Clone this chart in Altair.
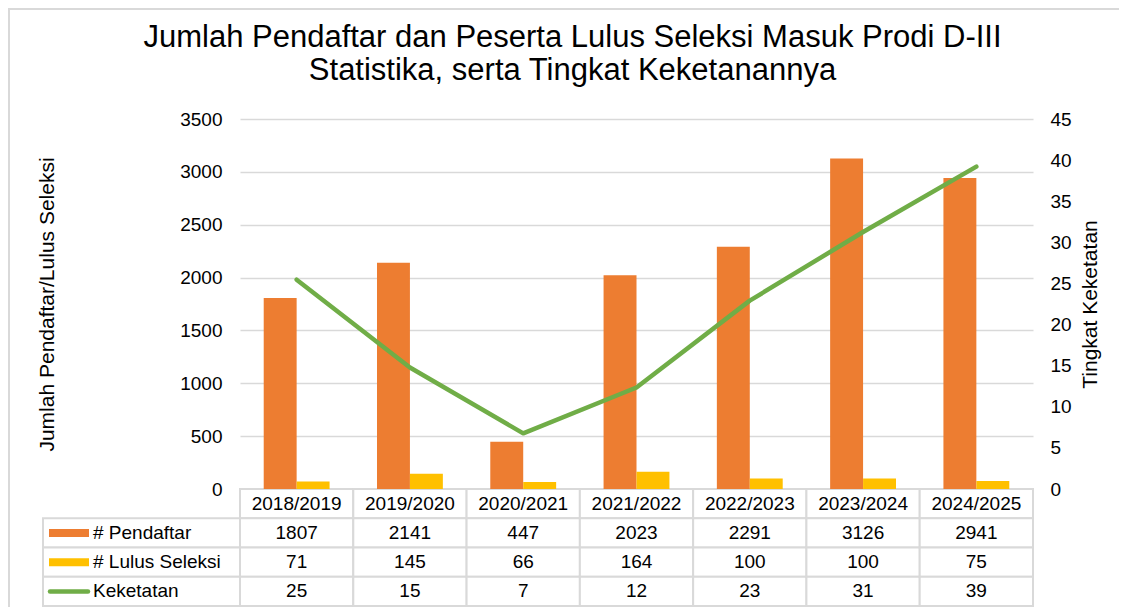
import altair as alt
import pandas as pd

# ---------------- data ----------------
years = ["2018/2019", "2019/2020", "2020/2021", "2021/2022", "2022/2023", "2023/2024", "2024/2025"]
pendaftar = [1807, 2141, 447, 2023, 2291, 3126, 2941]
lulus = [71, 145, 66, 164, 100, 100, 75]
keketatan = [25.45, 14.77, 6.77, 12.34, 22.91, 31.26, 39.21]      # plotted line values
keketatan_table = [25, 15, 7, 12, 23, 31, 39]                        # values shown in table
series_names = ["# Pendaftar", "# Lulus Seleksi"]
header_row = "Tahun"
row_names = [header_row, "# Pendaftar", "# Lulus Seleksi", "Keketatan"]
left_ticks = [0, 500, 1000, 1500, 2000, 2500, 3000, 3500]
right_ticks = [0, 5, 10, 15, 20, 25, 30, 35, 40, 45]
title_lines = ["Jumlah Pendaftar dan Peserta Lulus Seleksi Masuk Prodi D-III",
               "Statistika, serta Tingkat Keketanannya"]

ORANGE = "#ED7D31"
YELLOW = "#FFC000"
GREEN = "#70AD47"
GRID = "#D9D9D9"
FONT = "Liberation Sans"

W, H = 793, 370
TABLE_BOTTOM = 487
LEFT_COL = 197

bars_df = pd.DataFrame({
    "year": years * 2,
    "series": [series_names[0]] * len(years) + [series_names[1]] * len(years),
    "value": pendaftar + lulus,
})
line_df = pd.DataFrame({"year": years, "ratio": keketatan})

table_rows = []
for i, y in enumerate(years):
    table_rows.append({"year": y, "row": header_row, "label": y})
    table_rows.append({"year": y, "row": row_names[1], "label": str(pendaftar[i])})
    table_rows.append({"year": y, "row": row_names[2], "label": str(lulus[i])})
    table_rows.append({"year": y, "row": row_names[3], "label": str(keketatan_table[i])})
table_df = pd.DataFrame(table_rows)

legend_df = pd.DataFrame({
    "row": row_names[1:],
    "color": [ORANGE, YELLOW, GREEN],
    "kind": ["bar", "bar", "line"],
})

X = alt.X("year:N", sort=years,
          scale=alt.Scale(domain=years, paddingInner=0, paddingOuter=0), axis=None)

bars = alt.Chart(bars_df).mark_bar().encode(
    x=X,
    xOffset=alt.XOffset("series:N", sort=series_names,
                        scale=alt.Scale(domain=series_names, paddingInner=0, paddingOuter=0.72)),
    y=alt.Y("value:Q",
            scale=alt.Scale(domain=[0, 3500], nice=False),
            axis=alt.Axis(values=left_ticks, format="d", orient="left", grid=True,
                          gridColor=GRID, gridWidth=1.5, domain=False, ticks=False,
                          labelPadding=18, labelFontSize=19, labelFont=FONT,
                          labelColor="#000",
                          title="Jumlah Pendaftar/Lulus Seleksi", titleFontSize=21,
                          titleFont=FONT, titleFontWeight="normal", titleColor="#000",
                          titleAngle=270, titleBaseline="bottom", titleAlign="center",
                          titleX=-183, titleY=H / 2)),
    color=alt.Color("series:N", scale=alt.Scale(domain=series_names, range=[ORANGE, YELLOW]),
                    legend=None),
)

line = alt.Chart(line_df).mark_line(color=GREEN, strokeWidth=4.5, strokeCap="round",
                                    strokeJoin="round").encode(
    x=X,
    y=alt.Y("ratio:Q",
            scale=alt.Scale(domain=[0, 45], nice=False),
            axis=alt.Axis(values=right_ticks, format="d", orient="right", grid=False,
                          domain=False, ticks=False, labelPadding=17, labelFontSize=19,
                          labelFont=FONT, labelColor="#000", title="Tingkat Keketatan",
                          titleFontSize=21, titleFont=FONT, titleFontWeight="normal",
                          titleColor="#000", titleAngle=270, titleBaseline="bottom",
                          titleAlign="center", titleX=67, titleY=H / 2)),
)

TY = alt.Y("row:N", sort=row_names,
           scale=alt.Scale(domain=row_names, range=[H, TABLE_BOTTOM],
                           paddingInner=0, paddingOuter=0),
           axis=None)

cells = alt.Chart(table_df).mark_rect(fill="white", stroke=GRID, strokeWidth=2).encode(
    x=X, y=TY)
cell_text = alt.Chart(table_df).mark_text(font=FONT, fontSize=19, color="#000",
                                          baseline="middle", align="center").encode(
    x=X, y=TY, text="label:N")

left_cells = alt.Chart(legend_df).mark_rect(fill="white", stroke=GRID, strokeWidth=2).encode(
    x=alt.value(-LEFT_COL), x2=alt.value(0), y=TY)
left_text = alt.Chart(legend_df).mark_text(font=FONT, fontSize=19, color="#000",
                                           baseline="middle", align="left").encode(
    x=alt.value(-147), y=TY, text="row:N")
bar_sym = alt.Chart(legend_df).transform_filter(alt.datum.kind == "bar").mark_rule(
    strokeWidth=8, strokeCap="butt").encode(
    x=alt.value(-191), x2=alt.value(-151), y=TY,
    color=alt.Color("color:N", scale=None))
line_sym = alt.Chart(legend_df).transform_filter(alt.datum.kind == "line").mark_rule(
    strokeWidth=4.5, strokeCap="round").encode(
    x=alt.value(-190), x2=alt.value(-152), y=TY,
    color=alt.Color("color:N", scale=None))

# outer chart frame (left and top edges visible in the reference)
frame_df = pd.DataFrame({"frame": [1]})
frame_left = alt.Chart(frame_df).mark_rule(color=GRID, strokeWidth=2).encode(
    x=alt.value(-231), y=alt.value(-111), y2=alt.value(H + 118))
frame_top = alt.Chart(frame_df).mark_rule(color=GRID, strokeWidth=2).encode(
    x=alt.value(-232), x2=alt.value(W + 86), y=alt.value(-110))

table = alt.layer(cells, cell_text, left_cells, left_text, bar_sym, line_sym)

chart = alt.layer(frame_left, frame_top, table, bars, line).resolve_scale(
    y="independent", color="independent"
).properties(
    width=W, height=H,
    background="white",
    autosize=alt.AutoSizeParams(type="none"),
    padding={"left": 232, "top": 111, "right": 86, "bottom": 118},
    title=alt.TitleParams(text=title_lines, fontSize=31, font=FONT, fontWeight="normal",
                          color="#000", anchor="middle", frame="group", dx=-64,
                          lineHeight=33, offset=-80),
).configure_view(strokeWidth=0)

chart.save("out.html", embed_options={"renderer": "svg", "actions": False})
